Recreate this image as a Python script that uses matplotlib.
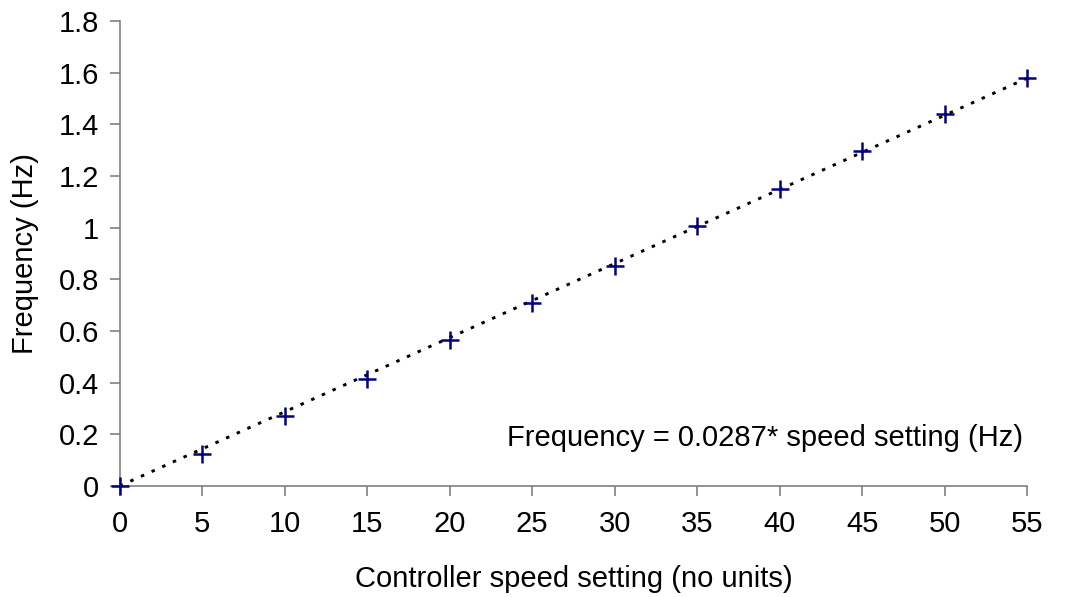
import numpy as np
import matplotlib.pyplot as plt

plt.rcParams['font.family'] = ['Liberation Sans', 'DejaVu Sans']

speed = [0, 5, 10, 15, 20, 25, 30, 35, 40, 45, 50, 55]
freq = [0, 0.125, 0.27, 0.415, 0.565, 0.71, 0.85, 1.005, 1.15, 1.295, 1.44, 1.58]
slope = 0.0287

fig = plt.figure(figsize=(10.78, 5.97), dpi=100)
ax = fig.add_axes([0.111, 0.186, 0.842, 0.779])

xfit = np.array([0, 55])
ax.plot(xfit, slope * xfit, color='black', linestyle=(0, (1.2, 2.8)), linewidth=2.1, zorder=1)
ax.plot(speed, freq, linestyle='none', marker='+', markersize=13, markeredgewidth=1.8,
        color='#000080', clip_on=False, zorder=3)

ax.set_xlim(0, 55)
ax.set_ylim(0, 1.8)
ax.set_xticks(range(0, 56, 5))
ax.set_yticks(np.arange(0, 1.81, 0.2))
ax.set_yticklabels(['0', '0.2', '0.4', '0.6', '0.8', '1', '1.2', '1.4', '1.6', '1.8'])
for s in ['top', 'right']:
    ax.spines[s].set_visible(False)
for s in ['left', 'bottom']:
    ax.spines[s].set_color('#808080')
    ax.spines[s].set_linewidth(1.2)
ax.tick_params(direction='out', length=7, width=1.2, color='#808080', labelsize=21, pad=8)
ax.tick_params(axis='x', pad=10)

ax.set_xlabel('Controller speed setting (no units)', fontsize=21, labelpad=20)
ax.set_ylabel('Frequency (Hz)', fontsize=21, labelpad=14)
ax.text(23.5, 0.186, 'Frequency = 0.0287* speed setting (Hz)', fontsize=21, va='center')

fig.savefig('out.png', dpi=100)
